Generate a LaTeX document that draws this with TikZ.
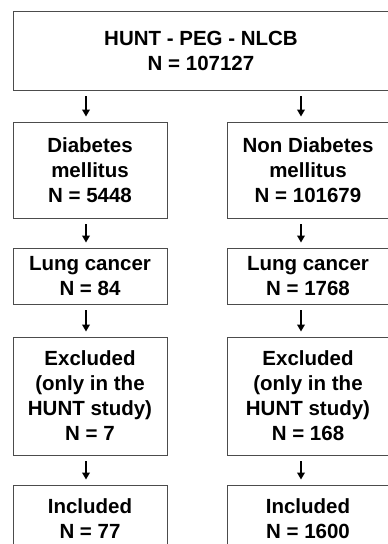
\documentclass[tikz,border=0pt]{standalone}
\usepackage{fontspec}
\setmainfont{Liberation Sans}
\usetikzlibrary{arrows.meta,calc}
\begin{document}
\begin{tikzpicture}[x=1pt, y=-1pt,
        box/.style={draw=black!70, line width=0.9pt, align=center, inner sep=0pt,
            font=\bfseries\fontsize{20.5}{25}\selectfont},
        arr/.style={line width=1.8pt, -{Triangle[width=7.5pt,length=7pt]},
            shorten <=6pt, shorten >=5pt}]
        % Page size of the reference, boxes run past its edges
        \clip (0, 0) rectangle (388, 544);

        % Draw the boxes
        \node[box, minimum width=376pt, minimum height=79pt] (all) at (201, 50.5) {HUNT - PEG - NLCB\\N = 107127};

        \node[box, minimum width=154pt, minimum height=96pt] (dm) at (90, 170) {Diabetes\\mellitus\\N = 5448};
        \node[box, minimum width=162pt, minimum height=96pt] (ndm) at (308, 170) {Non Diabetes\\mellitus\\N = 101679};

        \node[box, minimum width=154pt, minimum height=56pt] (lcdm) at (90, 276) {Lung cancer\\N = 84};
        \node[box, minimum width=162pt, minimum height=56pt] (lcndm) at (308, 276) {Lung cancer\\N = 1768};

        \node[box, minimum width=154pt, minimum height=118pt] (exdm) at (90, 396) {Excluded\\(only in the\\HUNT study)\\N = 7};
        \node[box, minimum width=162pt, minimum height=118pt] (exndm) at (308, 396) {Excluded\\(only in the\\HUNT study)\\N = 168};

        \node[box, minimum width=154pt, minimum height=68pt] (indm) at (90, 519) {Included\\N = 77};
        \node[box, minimum width=162pt, minimum height=68pt] (inndm) at (308, 519) {Included\\N = 1600};

        % The right edges lie outside the page
        \fill[white] (387.6, 0) rectangle (400, 544);

        % Add the arrows between the boxes
        \draw[arr] ($(all.south -| dm.north)+(-4, 0)$) -- ($(dm.north)+(-4, 0)$);
        \draw[arr] ($(dm.south)+(-4, 0)$) -- ($(lcdm.north)+(-4, 0)$);
        \draw[arr] ($(lcdm.south)+(-4, 0)$) -- ($(exdm.north)+(-4, 0)$);
        \draw[arr] ($(exdm.south)+(-4, 0)$) -- ($(indm.north)+(-4, 0)$);

        \draw[arr] ($(all.south -| ndm.north)+(-7, 0)$) -- ($(ndm.north)+(-7, 0)$);
        \draw[arr] ($(ndm.south)+(-7, 0)$) -- ($(lcndm.north)+(-7, 0)$);
        \draw[arr] ($(lcndm.south)+(-7, 0)$) -- ($(exndm.north)+(-7, 0)$);
        \draw[arr] ($(exndm.south)+(-7, 0)$) -- ($(inndm.north)+(-7, 0)$);

    \end{tikzpicture}
\end{document}
